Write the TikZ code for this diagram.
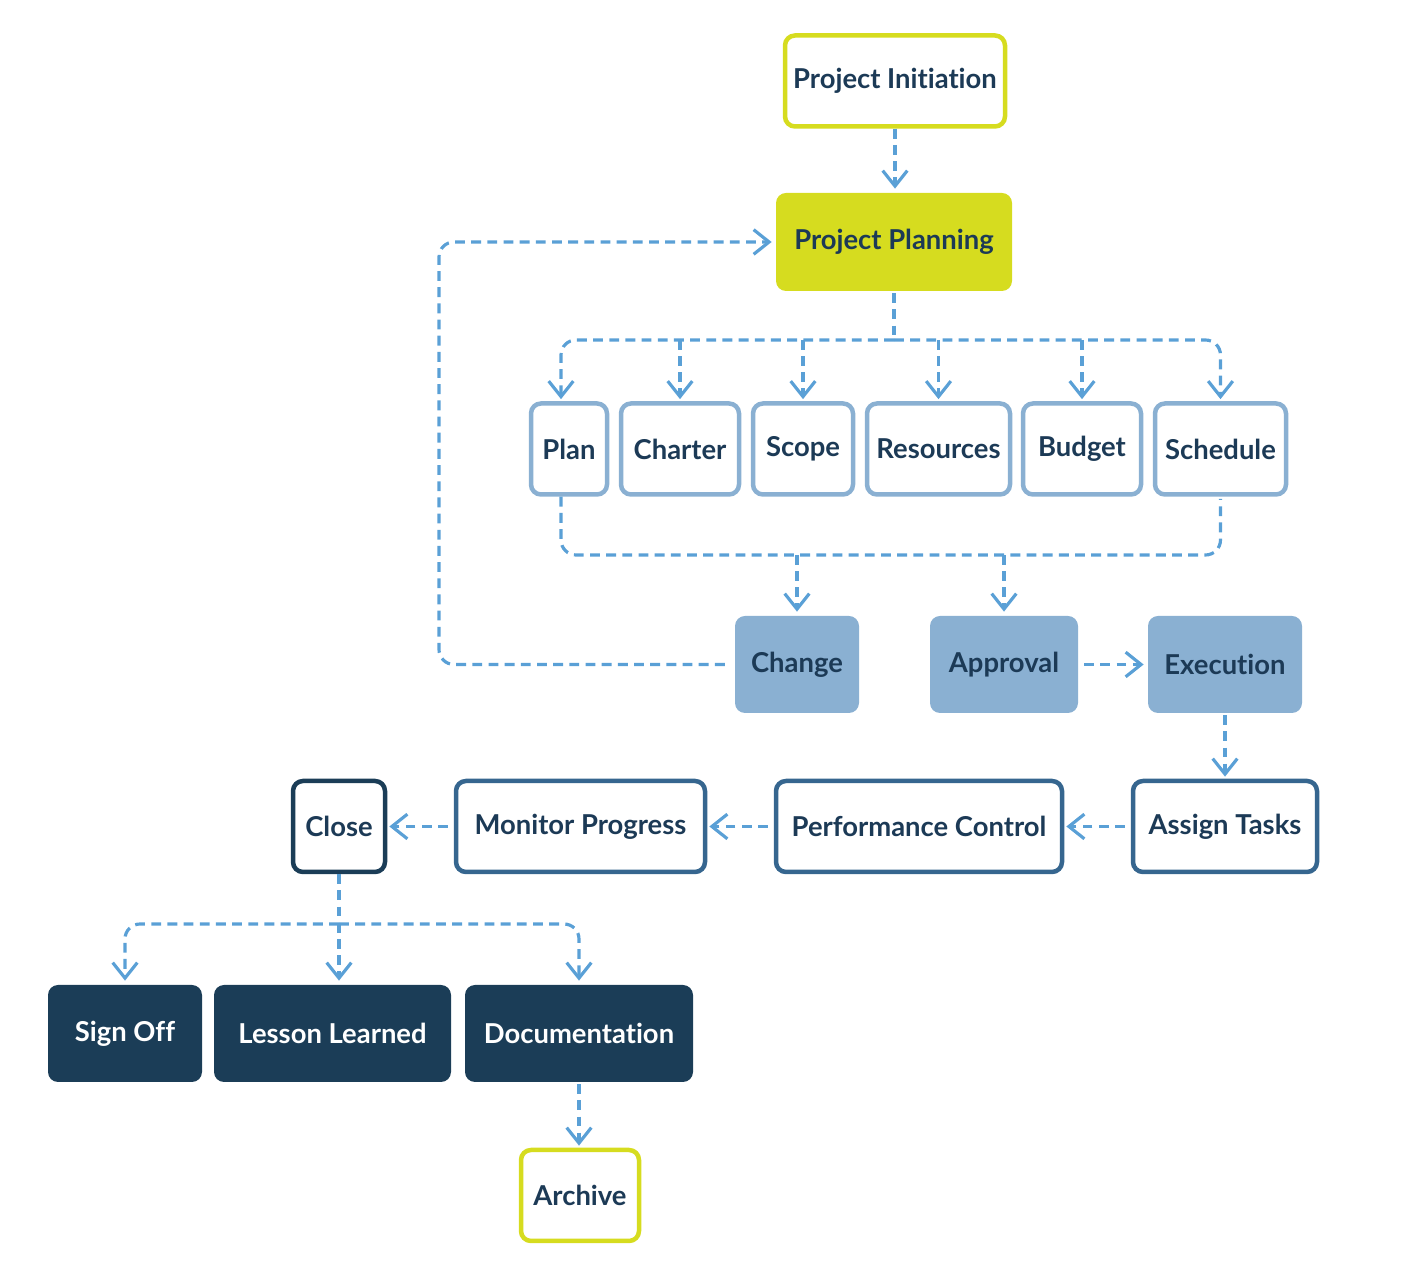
\documentclass[tikz,border=0pt]{standalone}
\usepackage{fontspec}
\setmainfont{Lato}[Ligatures=NoCommon]
\usetikzlibrary{arrows.meta}
\definecolor{limegreen}{HTML}{D6DC1F}
\definecolor{paleblue}{HTML}{8AB0D2}
\definecolor{midblue}{HTML}{36668F}
\definecolor{navy}{HTML}{1B3D57}
\definecolor{inkblue}{HTML}{1C3A56}
\definecolor{linkblue}{HTML}{5AA0D6}
\begin{document}
\begin{tikzpicture}[
    >={Straight Barb[length=4.4pt,width=7pt]},
    box/.style={rounded corners=0.1cm, line width=0.045cm, inner sep=0pt,
      minimum height=0.91cm, text=inkblue,
      font=\bfseries\fontsize{7.8}{9}\selectfont},
    limebox/.style={box, draw=limegreen, fill=white},
    limefill/.style={box, fill=limegreen, minimum height=0.98cm},
    lightbox/.style={box, draw=paleblue, fill=white},
    lightfill/.style={box, fill=paleblue, minimum height=0.97cm},
    midbox/.style={box, draw=midblue, fill=white},
    darkbox/.style={box, draw=navy, fill=white},
    darkfill/.style={box, fill=navy, text=white, minimum height=0.97cm},
    link/.style={draw=linkblue, line width=0.9pt,
      dash pattern=on 2.8pt off 1.8pt, shorten >=0.6pt},
  ]
  \useasboundingbox (0,0) rectangle (14.28,-12.71);

  % top
  \node[limebox, minimum width=2.20cm] (init) at (8.95,-0.81) {Project Initiation};
  \node[limefill, minimum width=2.36cm] (pp) at (8.94,-2.42) {Project Planning};

  % planning items
  \node[lightbox, minimum width=0.76cm] (plan) at (5.69,-4.49) {Plan};
  \node[lightbox, minimum width=1.18cm] (charter) at (6.80,-4.49) {Charter};
  \node[lightbox, minimum width=1.00cm] (scope) at (8.03,-4.49) {Scope};
  \node[lightbox, minimum width=1.43cm] (res) at (9.385,-4.49) {Resources};
  \node[lightbox, minimum width=1.18cm] (budget) at (10.82,-4.49) {Budget};
  \node[lightbox, minimum width=1.31cm] (sched) at (12.205,-4.49) {Schedule};

  % decision row
  \node[lightfill, minimum width=1.24cm] (change) at (7.97,-6.645) {Change};
  \node[lightfill, minimum width=1.48cm] (appr) at (10.04,-6.645) {Approval};
  \node[lightfill, minimum width=1.54cm] (exec) at (12.25,-6.645) {Execution};

  % control row
  \node[darkbox, minimum width=0.92cm] (close) at (3.39,-8.265) {Close};
  \node[midbox, minimum width=2.49cm] (monitor) at (5.805,-8.265) {Monitor Progress};
  \node[midbox, minimum width=2.86cm] (perf) at (9.19,-8.265) {Performance Control};
  \node[midbox, minimum width=1.84cm] (assign) at (12.25,-8.265) {Assign Tasks};

  % closing
  \node[darkfill, minimum width=1.54cm] (signoff) at (1.25,-10.335) {Sign Off};
  \node[darkfill, minimum width=2.37cm] (lesson) at (3.325,-10.335) {Lesson Learned};
  \node[darkfill, minimum width=2.28cm] (doc) at (5.79,-10.335) {Documentation};
  \node[limebox, minimum width=1.18cm] (archive) at (5.80,-11.955) {Archive};

  \coordinate (bus1) at (0,-3.40);
  \coordinate (bus2) at (0,-5.55);
  \coordinate (bus3) at (0,-9.24);
  \coordinate (back) at (4.39,0);

  \draw[link,->] (init.south) -- (init.south |- pp.north);
  \draw[link] (pp.south) -- (pp.south |- bus1);
  \draw[link,->,rounded corners=0.15cm] (pp.south |- bus1) -| ([xshift=-0.08cm]plan.north);
  \draw[link,->,rounded corners=0.15cm] (pp.south |- bus1) -| (sched.north);
  \foreach \n in {charter,scope,res,budget}
    \draw[link,->] (\n.north |- bus1) -- (\n.north);

  \draw[link,rounded corners=0.15cm] ([xshift=-0.08cm]plan.south) |- (bus2 -| sched.south) -- (sched.south);
  \draw[link,->] (change.north |- bus2) -- (change.north);
  \draw[link,->] (appr.north |- bus2) -- (appr.north);

  \draw[link,->,rounded corners=0.15cm,shorten <=0.08cm] (change.west) -| (back |- pp.west) -- (pp.west);
  \draw[link,->,shorten <=0.04cm] (appr) -- (exec);
  \draw[link,->] (exec) -- (assign);
  \draw[link,->,shorten <=0.06cm] (assign) -- (perf);
  \draw[link,->,shorten <=0.06cm] (perf) -- (monitor);
  \draw[link,->,shorten <=0.06cm] (monitor) -- (close);

  \draw[link,->] (close.south) -- (close.south |- lesson.north);
  \draw[link,->,rounded corners=0.15cm] (close.south |- bus3) -| (signoff.north);
  \draw[link,->,rounded corners=0.15cm] (close.south |- bus3) -| (doc.north);
  \draw[link,->] (doc.south) -- (doc.south |- archive.north);
\end{tikzpicture}
\end{document}
